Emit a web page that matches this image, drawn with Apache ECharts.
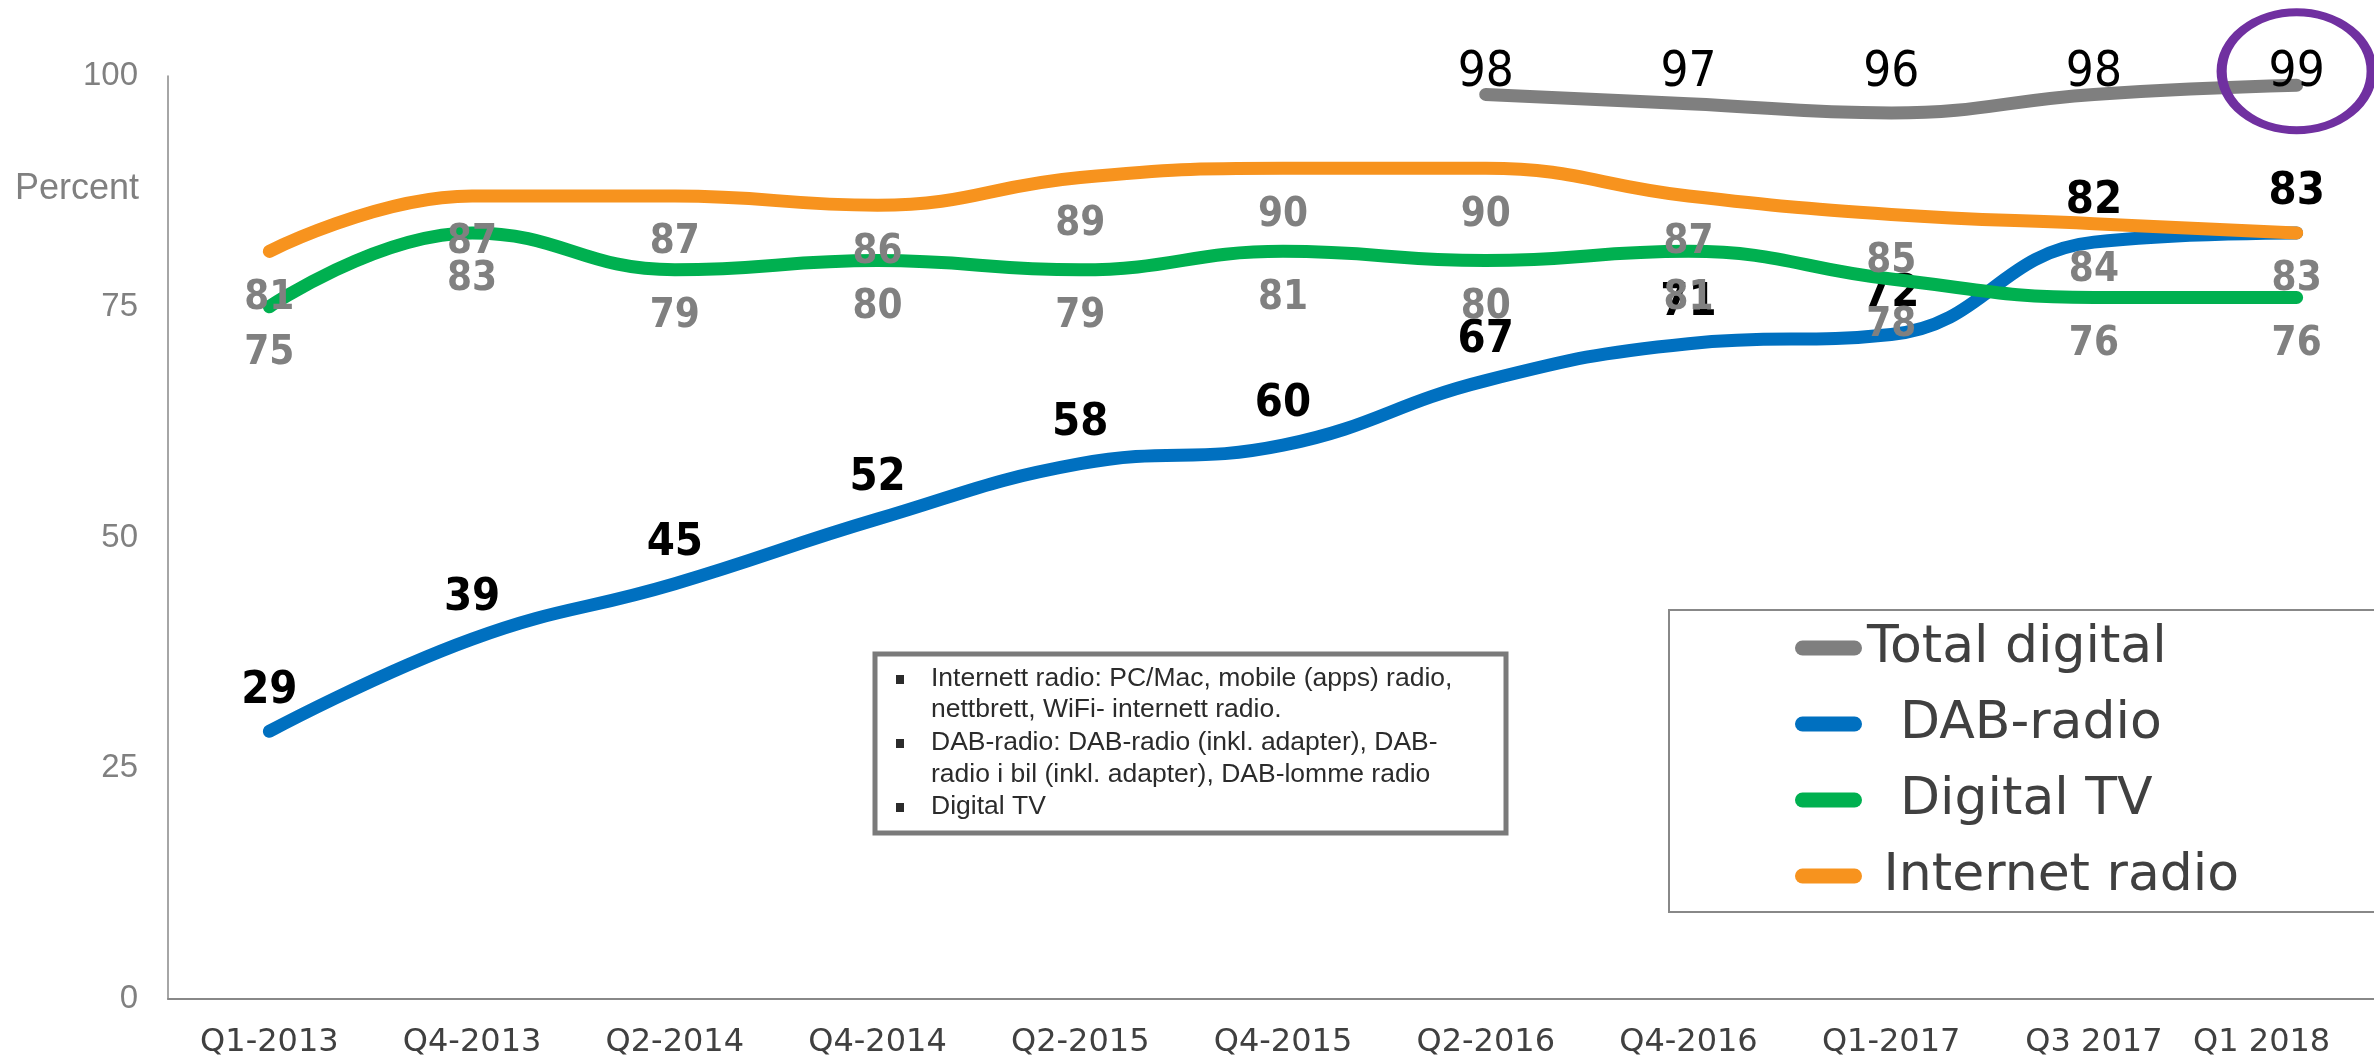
<!DOCTYPE html>
<html>
<head>
<meta charset="utf-8">
<script src="https://cdn.jsdelivr.net/npm/echarts@6/dist/echarts.min.js"></script>
<style>
  html, body { margin: 0; padding: 0; background: #fff; }
  #chart { width: 2374px; height: 1059px; }
</style>
</head>
<body>
<div id="chart"></div>
<script>
const quarters = ['Q1-2013', 'Q4-2013', 'Q2-2014', 'Q4-2014', 'Q2-2015', 'Q4-2015',
  'Q2-2016', 'Q4-2016', 'Q1-2017', 'Q3 2017', 'Q1 2018'];
const totalDigital = [null, null, null, null, null, null, 98, 97, 96, 98, 99];
const dabRadio = [29, 39, 45, 52, 58, 60, 67, 71, 72, 82, 83];
const digitalTv = [75, 83, 79, 80, 79, 81, 80, 81, 78, 76, 76];
const internetRadio = [81, 87, 87, 86, 89, 90, 90, 87, 85, 84, 83];
const yTicks = [0, 25, 50, 75, 100];

const noteLines = [
  'Internett radio: PC/Mac, mobile (apps) radio,',
  'nettbrett, WiFi- internett radio.',
  'DAB-radio: DAB-radio (inkl. adapter), DAB-',
  'radio i bil (inkl. adapter), DAB-lomme radio',
  'Digital TV'
];

const chart = echarts.init(document.getElementById('chart'));

const condensed = "'DejaVu Sans Condensed', 'DejaVu Sans', sans-serif";
const pill = 'path://M7.5,0 L59.5,0 A7.5,7.5 0 0 1 59.5,15 L7.5,15 A7.5,7.5 0 0 1 7.5,0 Z';

function grayLabel() {
  return {
    show: true, position: 'bottom', distance: 27,
    color: '#808080', fontWeight: 'bold', fontSize: 40, fontFamily: condensed
  };
}

function lineSeries(name, data, color, label, z) {
  return {
    name: name, type: 'line', data: data, smooth: 0.45, z: z,
    symbol: 'circle', symbolSize: 0, showSymbol: true,
    color: color,
    itemStyle: { color: color },
    lineStyle: { color: color, width: 13, cap: 'round', join: 'round' },
    label: label,
    emphasis: { disabled: true },
    animation: false
  };
}

// note box, text rows (y of text centres)
const rowY = [679, 710, 743, 775, 807];
const noteGraphics = [{
  type: 'rect',
  shape: { x: 875, y: 654, width: 631, height: 179 },
  style: { fill: '#fff', stroke: '#7a7a7a', lineWidth: 5 }
}];
noteLines.forEach((t, i) => {
  noteGraphics.push({
    type: 'text', x: 931, y: rowY[i],
    style: { text: t, fill: '#2b2b2b', font: "26.5px 'Liberation Sans', Arial, sans-serif", verticalAlign: 'middle' }
  });
});
[0, 2, 4].forEach(i => {
  noteGraphics.push({
    type: 'rect',
    shape: { x: 896, y: rowY[i] - 4, width: 8, height: 9 },
    style: { fill: '#2b2b2b' }
  });
});

const lastIdx = quarters.length - 1;

const option = {
  backgroundColor: '#fff',
  animation: false,
  title: {
    text: 'Percent', left: 10, top: 166,
    textStyle: { color: '#808080', fontSize: 36, fontWeight: 'normal', fontFamily: "'Liberation Sans', Arial, sans-serif" }
  },
  grid: { left: 168, top: 76, width: 2230, height: 923, outerBoundsMode: 'none', containLabel: false },
  legend: {
    orient: 'vertical', left: 1669, top: 610,
    padding: [12, 400, 10, 126],
    itemGap: 24, itemWidth: 67, itemHeight: 15,
    borderColor: '#888', borderWidth: 2,
    icon: pill,
    itemStyle: { borderWidth: 0 },
    textStyle: { color: '#404040', fontSize: 52, fontFamily: "'DejaVu Sans', sans-serif" },
    formatter: function (n) {
      if (n === 'DAB-radio' || n === 'Digital TV') return '  ' + n;
      if (n === 'Internet radio') return ' ' + n;
      return n;
    },
    data: ['Total digital', 'DAB-radio', 'Digital TV', 'Internet radio']
  },
  xAxis: {
    type: 'category', data: quarters, boundaryGap: true,
    axisLine: { lineStyle: { color: '#888', width: 2 } },
    axisTick: { show: false },
    axisLabel: {
      interval: 0, margin: 28, color: '#404040', fontSize: 32, fontFamily: "'DejaVu Sans', sans-serif",
      formatter: function (v, i) { return i === lastIdx ? '{last|' + v + '}' : v; },
      rich: { last: { padding: [0, 70, 0, 0], color: '#404040', fontSize: 32, fontFamily: "'DejaVu Sans', sans-serif" } }
    }
  },
  yAxis: {
    type: 'value', min: yTicks[0], max: yTicks[yTicks.length - 1], interval: 25,
    splitLine: { show: false },
    axisTick: { show: false },
    axisLine: { show: true, lineStyle: { color: '#888', width: 1.5 } },
    axisLabel: { margin: 30, color: '#808080', fontSize: 33, fontFamily: "'Liberation Sans', Arial, sans-serif" }
  },
  graphic: noteGraphics,
  series: [
    Object.assign(lineSeries('Total digital', totalDigital, '#7f7f7f', {
      show: true, position: 'top', distance: 2,
      color: '#000', fontSize: 49, fontFamily: condensed
    }, 2), {
      // the values above the total line sit on one common row
      labelLayout: function (p) {
        return { x: p.rect.x + p.rect.width / 2, y: 73, align: 'center', verticalAlign: 'middle' };
      },
      markPoint: {
        silent: true,
        symbol: 'circle', symbolSize: [150, 118], symbolOffset: [0, -14],
        itemStyle: { color: 'rgba(0,0,0,0)', borderColor: '#7030a0', borderWidth: 9 },
        label: { show: false },
        data: [{ coord: [quarters[lastIdx], totalDigital[lastIdx]] }]
      }
    }),
    lineSeries('DAB-radio', dabRadio, '#0070c0', {
      show: true, position: 'top', distance: 18,
      color: '#000', fontWeight: 'bold', fontSize: 45, fontFamily: condensed
    }, 3),
    lineSeries('Digital TV', digitalTv, '#00b050', grayLabel(), 4),
    lineSeries('Internet radio', internetRadio, '#f7931e', grayLabel(), 5)
  ]
};

chart.setOption(option);
</script>
</body>
</html>
